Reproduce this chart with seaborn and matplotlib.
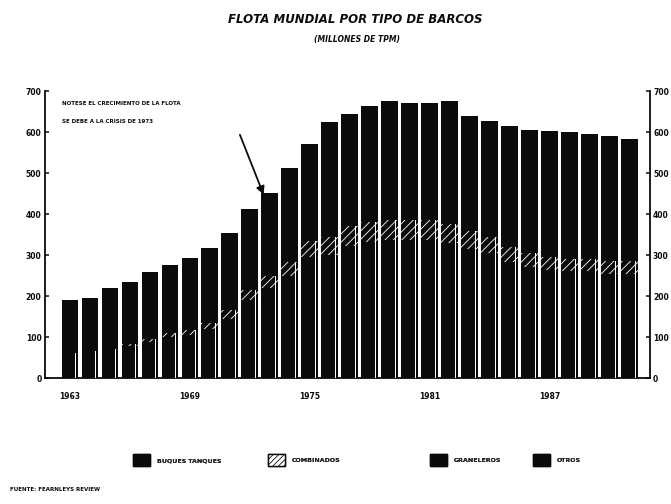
import matplotlib
matplotlib.use("Agg")
import numpy as np
import pandas as pd
import matplotlib.pyplot as plt
import seaborn as sns
from matplotlib.patches import Patch

# World fleet by ship type, millions of dwt
years = list(range(1963, 1992))
tanques = [60, 65, 70, 78, 87, 100, 105, 120, 145, 190, 220, 250, 295, 300,
           322, 332, 337, 337, 337, 330, 315, 305, 282, 270, 263, 260, 260, 255, 255]
combinados = [0, 0, 2, 5, 8, 10, 13, 15, 20, 25, 30, 33, 40, 45,
              48, 48, 48, 48, 48, 45, 45, 40, 38, 35, 32, 30, 30, 30, 30]
graneleros = [45, 48, 55, 60, 68, 72, 78, 85, 92, 100, 105, 120, 125, 150,
              155, 165, 170, 170, 172, 185, 175, 180, 190, 195, 200, 203, 200, 202, 198]
otros = [85, 82, 93, 92, 95, 93, 96, 98, 97, 97, 96, 109, 111, 129,
         120, 120, 120, 117, 115, 115, 105, 103, 105, 105, 107, 107, 105, 103, 100]

year_labels = ["1963", "1969", "1975", "1981", "1987"]
y_ticks = [0, 100, 200, 300, 400, 500, 600, 700]
series_names = ["BUQUES TANQUES", "COMBINADOS", "GRANELEROS", "OTROS"]

sns.set_style("ticks")
plt.rcParams["font.family"] = ["DejaVu Sans"]
plt.rcParams["hatch.linewidth"] = 0.6

df = pd.DataFrame({"anio": years, "tanques": tanques, "combinados": combinados,
                   "graneleros": graneleros, "otros": otros})
df["c1"] = df["tanques"]
df["c2"] = df["c1"] + df["combinados"]
df["c3"] = df["c2"] + df["graneleros"]
df["c4"] = df["c3"] + df["otros"]

ink = "#0b0b0b"
bar_w = 0.82

fig = plt.figure(figsize=(6.71, 5.04), dpi=100)
ax = fig.add_axes([0.067, 0.25, 0.901, 0.569])

# stacked bars drawn as overlapping cumulative layers, tallest first
sns.barplot(data=df, x="anio", y="c4", color=ink, saturation=1, width=bar_w,
            errorbar=None, linewidth=0, ax=ax)
sns.barplot(data=df, x="anio", y="c3", color=ink, saturation=1, width=bar_w,
            errorbar=None, linewidth=0, ax=ax)
sns.barplot(data=df, x="anio", y="c2", color=ink, saturation=1, width=bar_w,
            errorbar=None, linewidth=0, edgecolor="white", hatch="////", ax=ax)
sns.barplot(data=df, x="anio", y="c1", color=ink, saturation=1, width=bar_w,
            errorbar=None, linewidth=0, ax=ax)

# thin light line separating the side face of each bar
idx = np.arange(len(years))
ax.bar(idx + 0.29, df["c2"], width=0.045, color="white", linewidth=0, zorder=3)

ax.set_xlim(-1.24, len(years) - 1 + 1.0)
ax.set_ylim(0, 700)
ax.set_yticks(y_ticks)
ax.set_yticklabels([str(v) for v in y_ticks])
ax.set_xticks([years.index(int(l)) for l in year_labels])
ax.set_xticklabels(year_labels)
ax.set_xlabel("")
ax.set_ylabel("")

for side in ["left", "right", "bottom"]:
    ax.spines[side].set_visible(True)
    ax.spines[side].set_linewidth(1.3)
    ax.spines[side].set_color(ink)
ax.spines["top"].set_visible(False)

ax.tick_params(axis="y", direction="in", length=3, width=1.1, colors=ink,
               left=True, right=True, labelleft=True, labelright=True,
               labelsize=5.5, pad=4)
ax.tick_params(axis="x", length=0, labelsize=5.5, pad=10, colors=ink)
for lab in ax.get_xticklabels() + ax.get_yticklabels():
    lab.set_fontweight("bold")
for t in ax.yaxis.get_major_ticks():
    t.label2.set_fontweight("bold")
    t.label2.set_fontsize(5.5)
    t.set_pad(2.5)

# note and arrow pointing at the 1973 bar
ax.text(-0.4, 669, "NOTESE EL CRECIMIENTO DE LA FLOTA", fontsize=4, fontweight="bold",
        color=ink, va="center", ha="left")
ax.text(-0.4, 627, "SE DEBE A LA CRISIS DE 1973", fontsize=4, fontweight="bold",
        color=ink, va="center", ha="left")
ax.annotate("", xy=(years.index(1973) - 0.25, 441), xytext=(years.index(1971) + 0.46, 600),
            arrowprops=dict(arrowstyle="-|>", color=ink, lw=1.3, mutation_scale=12))

# titles
fig.text(0.53, 0.962, "FLOTA MUNDIAL POR TIPO DE BARCOS", ha="center", va="center",
         fontsize=8.5, fontweight="bold", fontstyle="italic", color=ink)
fig.text(0.532, 0.921, "(MILLONES DE TPM)", ha="center", va="center",
         fontsize=5.5, fontweight="bold", fontstyle="italic", color=ink)

# legend entries spread along the bottom
handles = [
    Patch(facecolor=ink, edgecolor=ink, label=series_names[0]),
    Patch(facecolor="white", edgecolor=ink, hatch="//////", label=series_names[1]),
    Patch(facecolor=ink, edgecolor=ink, label=series_names[2]),
    Patch(facecolor=ink, edgecolor=ink, label=series_names[3]),
]
legend_x = [0.198, 0.399, 0.641, 0.794]
for h, lx in zip(handles, legend_x):
    leg = fig.legend(handles=[h], loc="center left", bbox_to_anchor=(lx, 0.087),
                     frameon=False, prop={"size": 4.5, "weight": "bold"},
                     handlelength=2.7, handleheight=2.7, handletextpad=1.1,
                     borderpad=0, borderaxespad=0)
    fig.add_artist(leg)

fig.text(0.015, 0.028, "FUENTE: FEARNLEYS REVIEW", fontsize=4, fontweight="bold",
         color=ink, ha="left", va="center")

fig.savefig("out.png", dpi=100, facecolor="white")
